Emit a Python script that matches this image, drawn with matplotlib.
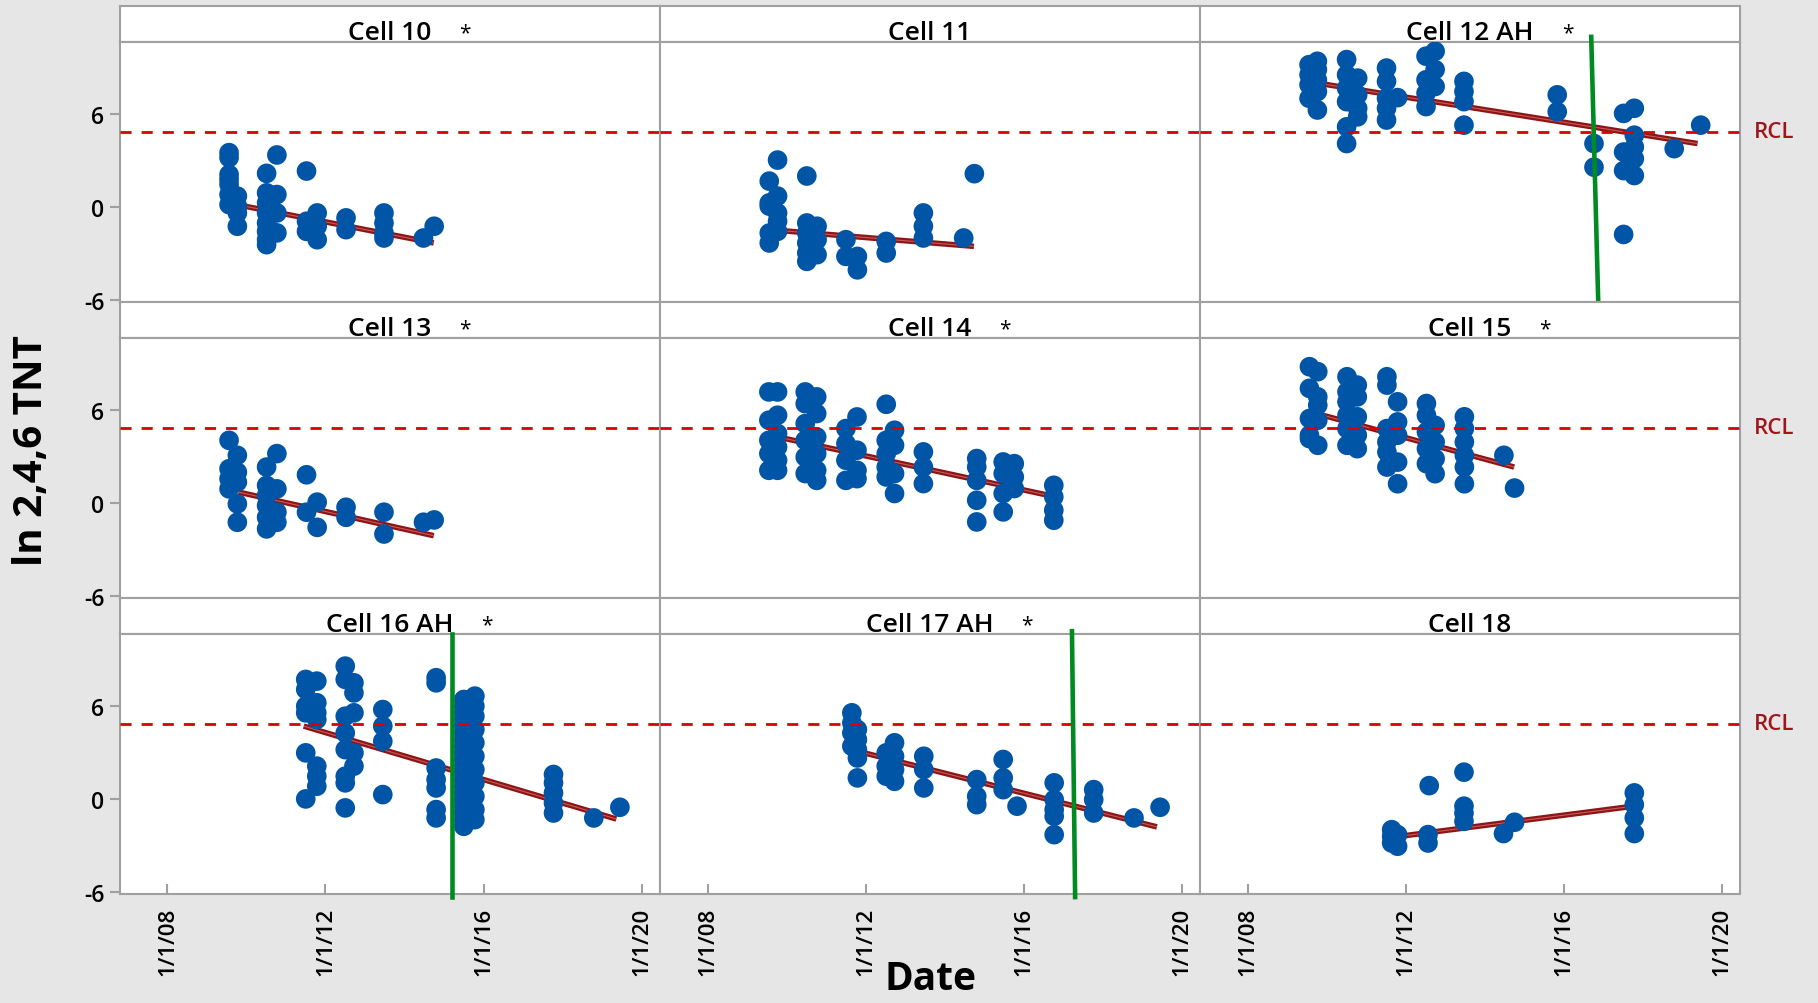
import matplotlib
matplotlib.use("Agg")
import matplotlib.pyplot as plt
import matplotlib.transforms as mtransforms

plt.rcParams['font.family'] = ['Open Sans', 'DejaVu Sans']

# ---- data (x = decimal year, y = ln 2,4,6 TNT) ----
cell_names = ["Cell 10", "Cell 11", "Cell 12 AH",
              "Cell 13", "Cell 14", "Cell 15",
              "Cell 16 AH", "Cell 17 AH", "Cell 18"]
cell_starred = [True, False, True, True, True, True, True, True, False]

cell10_x = [2009.56] * 7 + [2009.77] * 4 + [2010.51] * 8 + [2010.77] * 4 + \
    [2011.52] * 3 + [2011.79] * 3 + [2012.52] * 2 + [2013.48] * 4 + [2014.48, 2014.75]
cell10_y = [3.51, 3.19, 2.10, 1.78, 1.45, 0.80, 0.15,
            0.70, 0.05, -0.39, -1.25,
            2.17, 0.91, 0.26, -0.39, -1.04, -1.58, -2.12, -2.44,
            3.36, 0.80, -0.39, -1.68,
            2.32, -0.93, -1.58,
            -0.39, -1.25, -2.12,
            -0.71, -1.47,
            -0.39, -1.04, -1.68, -2.01,
            -2.01, -1.25]

cell11_x = [2009.56] * 5 + [2009.77] * 5 + [2010.51] * 6 + [2010.77] * 3 + \
    [2011.50] * 2 + [2011.79] * 2 + [2012.52] * 2 + [2013.46] * 3 + [2014.48, 2014.75]
cell11_y = [1.67, 0.26, 0.05, -1.69, -2.33,
            3.03, 0.70, -0.39, -0.93, -1.58,
            2.00, -1.04, -1.68, -2.33, -2.98, -3.52,
            -1.25, -2.12, -3.09,
            -2.12, -3.20,
            -3.20, -4.07,
            -2.23, -2.98,
            -0.39, -1.25, -2.01,
            -2.01, 2.15]

cell12_x = [2009.55] * 4 + [2009.76] * 5 + [2010.50] * 6 + [2010.78] * 4 + \
    [2011.51] * 5 + [2011.79] + [2012.51] * 4 + [2012.74] * 3 + [2013.47] * 4 + \
    [2015.83] * 2 + [2016.76] * 2 + [2017.51] * 4 + [2017.78] * 5 + [2018.79, 2019.46]
cell12_y = [9.20, 8.55, 7.90, 7.03,
            9.42, 8.88, 8.22, 7.46, 6.27,
            9.53, 8.55, 7.68, 6.81, 5.18, 4.10,
            8.33, 7.25, 6.38, 5.83,
            8.98, 8.12, 7.03, 6.38, 5.62,
            7.07,
            9.75, 8.22, 7.36, 6.49,
            10.07, 8.88, 7.79,
            8.12, 7.46, 6.81, 5.29,
            7.25, 6.16,
            4.10, 2.57,
            6.05, 3.55, 2.35, -1.78,
            6.38, 4.64, 3.88, 3.12, 2.03,
            3.77, 5.29]

cell13_x = [2009.56] * 4 + [2009.77] * 5 + [2010.51] * 6 + [2010.77] * 4 + \
    [2011.52] * 2 + [2011.79] * 2 + [2012.52] * 2 + [2013.48] * 2 + [2014.48, 2014.75]
cell13_y = [4.05, 2.21, 1.56, 0.91,
            3.08, 1.99, 1.35, -0.06, -1.25,
            2.32, 1.13, 0.48, -0.17, -0.93, -1.68,
            3.19, 0.91, -0.60, -1.25,
            1.82, -0.60,
            0.05, -1.58,
            -0.28, -0.93,
            -0.60, -2.01,
            -1.25, -1.10]

cell14_x = [2009.55] * 5 + [2009.77] * 6 + [2010.47] * 6 + [2010.76] * 6 + \
    [2011.50] * 4 + [2011.78] * 4 + [2012.52] * 5 + [2012.73] * 4 + [2013.46] * 3 + \
    [2014.81] * 5 + [2015.48] * 4 + [2015.76] * 3 + [2016.76] * 4
cell14_y = [7.18, 5.35, 4.05, 3.19, 2.11,
            7.18, 5.67, 4.49, 3.62, 2.76, 2.11,
            7.18, 6.42, 5.13, 4.05, 2.97, 1.90,
            6.86, 5.78, 4.27, 3.19, 2.11, 1.46,
            4.81, 3.84, 2.76, 1.46,
            5.56, 3.41, 2.11, 1.57,
            6.38, 4.05, 3.19, 2.32, 1.68,
            4.70, 3.73, 1.90, 0.61,
            3.30, 2.32, 1.25,
            2.87, 2.32, 1.46, 0.17, -1.23,
            2.65, 1.90, 0.61, -0.58,
            2.54, 1.68, 0.93,
            1.14, 0.39, -0.47, -1.12]

cell15_x = [2009.56] * 5 + [2009.77] * 5 + [2010.51] * 6 + [2010.77] * 5 + \
    [2011.52] * 6 + [2011.79] * 5 + [2012.52] * 5 + [2012.74] * 4 + [2013.48] * 6 + \
    [2014.48, 2014.75]
cell15_y = [8.81, 7.41, 5.46, 4.38, 4.16,
            8.49, 6.86, 6.32, 5.35, 3.73,
            8.16, 7.19, 6.54, 5.67, 4.81, 3.73,
            7.62, 6.86, 5.57, 4.38, 3.51,
            8.16, 7.62, 4.81, 3.94, 3.29, 2.32,
            6.54, 5.24, 4.38, 2.64, 1.24,
            6.43, 5.67, 4.59, 3.51, 2.54,
            5.02, 3.94, 2.86, 1.89,
            5.57, 4.81, 3.94, 3.08, 2.32, 1.24,
            3.08, 0.96]

cell16_x = [2011.50] * 6 + [2011.78] * 7 + [2012.50] * 8 + [2012.72] * 5 + [2013.45] * 4 + \
    [2014.80] * 7 + [2015.50] * 20 + [2015.78] * 11 + [2017.77] * 5 + [2018.79, 2019.45]
cell16_y = [7.73, 7.08, 6.00, 5.57, 2.98, 0.00,
            7.62, 6.22, 5.57, 5.14, 2.12, 1.47, 0.82,
            8.59, 7.73, 5.35, 4.27, 3.19, 1.47, 1.04, -0.58,
            7.51, 6.86, 5.57, 2.98, 2.12,
            5.78, 4.71, 3.73, 0.28,
            7.84, 7.51, 2.00, 1.25, 0.71, -0.69, -1.23,
            6.43, 6.00, 5.57, 5.14, 4.71, 4.27, 3.84, 3.41, 2.98, 2.55,
            2.12, 1.68, 1.25, 0.82, 0.39, -0.04, -0.47, -0.91, -1.34, -1.77,
            6.65, 6.00, 5.35, 4.49, 3.63, 2.76, 1.90, 1.04, 0.17, -0.69, -1.34,
            1.58, 1.04, 0.39, -0.26, -0.91,
            -1.23, -0.54]

cell17_x = [2011.65] * 4 + [2011.79] * 5 + [2012.52] * 3 + [2012.73] * 4 + [2013.47] * 3 + \
    [2014.81] * 3 + [2015.48] * 3 + [2015.83] + [2016.77] * 5 + [2017.77] * 3 + [2018.79, 2019.45]
cell17_y = [5.57, 4.92, 4.27, 3.41,
            4.49, 3.84, 3.19, 2.65, 1.36,
            2.98, 2.12, 1.47,
            3.63, 2.76, 1.90, 1.14,
            2.76, 1.90, 0.71,
            1.25, 0.17, -0.37,
            2.55, 1.36, 0.60,
            -0.47,
            1.04, -0.04, -0.69, -1.12, -2.31,
            0.60, -0.04, -0.91,
            -1.23, -0.54]

cell18_x = [2011.64] * 3 + [2011.79] * 2 + [2012.56] * 2 + [2012.59] + [2013.47] * 4 + \
    [2014.47, 2014.75] + [2017.78] * 4
cell18_y = [-1.99, -2.42, -2.85,
            -2.31, -3.06,
            -2.31, -2.85,
            0.86,
            1.73, -0.47, -0.91, -1.45,
            -2.24, -1.51,
            0.39, -0.37, -1.23, -2.24]

cell_x = [cell10_x, cell11_x, cell12_x, cell13_x, cell14_x, cell15_x, cell16_x, cell17_x, cell18_x]
cell_y = [cell10_y, cell11_y, cell12_y, cell13_y, cell14_y, cell15_y, cell16_y, cell17_y, cell18_y]

# fitted trend lines (start / end)
trend_x0 = [2009.75, 2009.75, 2009.78, 2009.80, 2009.77, 2009.58, 2011.45, 2011.79, 2011.84]
trend_x1 = [2014.74, 2014.74, 2019.38, 2014.74, 2016.63, 2014.74, 2019.36, 2019.37, 2017.61]
trend_y0 = [0.15, -1.51, 8.00, 0.70, 4.27, 5.89, 4.71, 3.09, -2.42]
trend_y1 = [-2.33, -2.55, 4.10, -2.12, 0.49, 2.32, -1.30, -1.81, -0.52]

# hand-drawn green markers (date at top / bottom, extent)
green_x_top = [None, None, 2016.69, None, None, None, 2015.21, 2017.22, None]
green_x_bot = [None, None, 2016.87, None, None, None, 2015.21, 2017.30, None]
green_y_top = [None, None, 11.0, None, None, None, 10.7, 10.85, None]
green_y_bot = [None, None, -6.39, None, None, None, -6.35, -6.35, None]

rcl = 4.87
tick_years = [2008, 2012, 2016, 2020]
tick_labels = ["1/1/08", "1/1/12", "1/1/16", "1/1/20"]
y_ticks = [-6, 0, 6]

# ---- layout (pixels, top-left origin) ----
W, H = 1818, 1004
left, col_w = 119.6, 540.2
top, strip_h, plot_h = 7, 35.5, 260.5
frame = '#A0A0A0'


def fig_box(x, y, w, h):
    return [x / W, 1 - (y + h) / H, w / W, h / H]


fig = plt.figure(figsize=(W / 100, H / 100), dpi=100, facecolor='#E6E6E6')

for i, name in enumerate(cell_names):
    r, c = divmod(i, 3)
    x0 = left + c * col_w
    ys = top + r * (strip_h + plot_h)

    # strip with the panel title
    sax = fig.add_axes(fig_box(x0, ys, col_w, strip_h))
    sax.set_xticks([])
    sax.set_yticks([])
    for s in sax.spines.values():
        s.set_color(frame)
        s.set_linewidth(1.5)
    title = sax.text(0.5, 0.08, name, ha='center', va='baseline', fontsize=19,
                     fontweight='semibold', transform=sax.transAxes)
    if cell_starred[i]:
        sax.annotate('*', xy=(1, 0), xycoords=title, xytext=(20, 1),
                     textcoords='offset points', ha='left', va='bottom', fontsize=15)

    # data panel
    ax = fig.add_axes(fig_box(x0, ys + strip_h, col_w, plot_h))
    ax.set_xlim(2006.79, 2020.46)
    ax.set_ylim(-6.15, 10.7)
    for s in ax.spines.values():
        s.set_color(frame)
        s.set_linewidth(1.5)

    ax.plot([trend_x0[i], trend_x1[i]], [trend_y0[i], trend_y1[i]],
            color='#8E1515', lw=4.0, solid_capstyle='butt', zorder=2)
    ax.plot([trend_x0[i], trend_x1[i]], [trend_y0[i], trend_y1[i]],
            color='#C85A5A', lw=0.8, solid_capstyle='butt', zorder=2)
    ax.scatter(cell_x[i], cell_y[i], s=200, color='#0055A6', edgecolors='none', zorder=3)
    ax.axhline(rcl, color='#DD0000', lw=2, linestyle=(0, (4, 3.6)), zorder=4)

    if green_x_top[i] is not None:
        ax.plot([green_x_top[i], green_x_bot[i]], [green_y_top[i], green_y_bot[i]],
                color='#008A22', lw=3.3, zorder=6, clip_on=False)

    ax.set_xticks(tick_years)
    if r == 2:
        ax.set_xticklabels(tick_labels, rotation=90, fontweight='semibold')
        ax.tick_params(axis='x', direction='in', length=7, width=1.5, color=frame,
                       labelsize=16, pad=9)
    else:
        ax.tick_params(axis='x', length=0, labelbottom=False)

    ax.set_yticks(y_ticks)
    if c == 0:
        ax.set_yticklabels([str(v) for v in y_ticks], fontweight='semibold')
        ax.tick_params(axis='y', direction='out', length=7, width=1.5, color=frame,
                       labelsize=16.5, pad=4)
    else:
        ax.tick_params(axis='y', length=0, labelleft=False)

    if c == 2:
        trans = mtransforms.blended_transform_factory(ax.transAxes, ax.transData)
        ax.text(1.025, rcl, 'RCL', transform=trans, ha='left', va='center',
                color='#A0141A', fontsize=16, fontweight='semibold', clip_on=False)

fig.text(32 / W, 1 - 451 / H, 'ln 2,4,6 TNT', rotation=90, ha='center', va='center',
         fontsize=29, fontweight='bold')
fig.text(930 / W, 1 - 980 / H, 'Date', ha='center', va='center',
         fontsize=28, fontweight='bold')

fig.savefig('out.png', dpi=100, facecolor=fig.get_facecolor())
